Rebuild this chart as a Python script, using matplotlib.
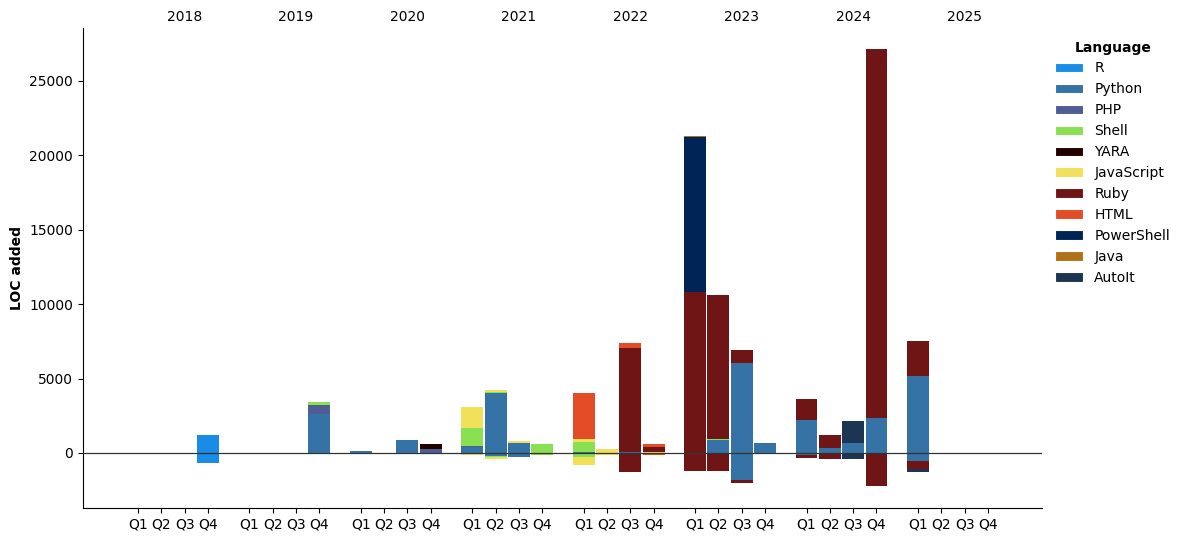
import matplotlib
matplotlib.use("Agg")
import matplotlib.pyplot as plt
import matplotlib.transforms as mtransforms
import numpy as np

years = ["2018", "2019", "2020", "2021", "2022", "2023", "2024", "2025"]
quarters = ["Q1", "Q2", "Q3", "Q4"]
languages = ["R", "Python", "PHP", "Shell", "YARA", "JavaScript", "Ruby",
             "HTML", "PowerShell", "Java", "AutoIt"]
colors = ["#198ce7", "#3572a5", "#4f5d95", "#89e051", "#220000", "#f1e05a",
          "#701516", "#e34c26", "#012456", "#b07219", "#1c3552"]

# Added lines (positive), per quarter, 2018 Q1 .. 2025 Q4
pos_R = [0, 0, 0, 1200,  0, 0, 0, 0,  0, 0, 0, 0,  0, 0, 0, 0,
         0, 0, 0, 0,  0, 0, 0, 0,  0, 0, 0, 0,  0, 0, 0, 0]
pos_Python = [0, 0, 0, 0,  0, 0, 0, 2650,  130, 0, 870, 0,  400, 4050, 690, 0,
              70, 30, 60, 0,  0, 890, 6070, 690,  2220, 340, 670, 2370,  5180, 0, 0, 0]
pos_PHP = [0, 0, 0, 0,  0, 0, 0, 550,  0, 0, 0, 270,  60, 0, 0, 0,
           0, 0, 0, 0,  0, 0, 0, 0,  0, 0, 0, 0,  0, 0, 0, 0]
pos_Shell = [0, 0, 0, 0,  0, 0, 0, 200,  0, 0, 0, 0,  1240, 50, 0, 630,
             670, 0, 0, 0,  0, 40, 0, 0,  0, 0, 0, 0,  0, 0, 0, 0]
pos_YARA = [0, 0, 0, 0,  0, 0, 0, 0,  0, 0, 0, 330,  0, 0, 0, 0,
            0, 0, 0, 0,  0, 0, 0, 0,  0, 0, 0, 0,  0, 0, 0, 0]
pos_JavaScript = [0, 0, 0, 0,  0, 0, 0, 0,  0, 0, 0, 0,  1410, 130, 130, 0,
                  200, 240, 0, 50,  0, 0, 0, 0,  0, 0, 0, 0,  0, 0, 0, 0]
pos_Ruby = [0, 0, 0, 0,  0, 0, 0, 0,  0, 0, 0, 0,  0, 0, 0, 0,
            0, 0, 7000, 350,  10840, 9710, 870, 0,  1410, 870, 0, 24780,  2350, 0, 0, 0]
pos_HTML = [0, 0, 0, 0,  0, 0, 0, 0,  0, 0, 0, 0,  0, 0, 0, 0,
            3090, 0, 330, 200,  0, 0, 0, 0,  0, 0, 0, 0,  0, 0, 0, 0]
pos_PowerShell = [0, 0, 0, 0,  0, 0, 0, 0,  0, 0, 0, 0,  0, 0, 0, 0,
                  0, 0, 0, 0,  10410, 0, 0, 0,  0, 0, 0, 0,  0, 0, 0, 0]
pos_Java = [0, 0, 0, 0,  0, 0, 0, 0,  0, 0, 0, 0,  0, 0, 0, 0,
            0, 0, 0, 0,  80, 0, 0, 0,  0, 0, 0, 0,  0, 0, 0, 0]
pos_AutoIt = [0, 0, 0, 0,  0, 0, 0, 0,  0, 0, 0, 0,  0, 0, 0, 0,
              0, 0, 0, 0,  0, 0, 0, 0,  0, 0, 1480, 0,  0, 0, 0, 0]

# Removed lines (negative)
neg_R = [0, 0, 0, -650,  0, 0, 0, 0,  0, 0, 0, 0,  0, 0, 0, 0,
         0, 0, 0, 0,  0, 0, 0, 0,  0, 0, 0, 0,  0, 0, 0, 0]
neg_Python = [0, 0, 0, 0,  0, 0, 0, 0,  0, 0, -30, 0,  -100, -180, -250, 0,
              -30, 0, 0, 0,  0, 0, -1790, 0,  -130, 0, 0, -100,  -520, 0, 0, 0]
neg_Shell = [0, 0, 0, 0,  0, 0, 0, 0,  0, 0, 0, 0,  0, -90, 0, -110,
             -240, 0, 0, 0,  0, 0, 0, 0,  0, 0, 0, 0,  0, 0, 0, 0]
neg_JavaScript = [0, 0, 0, 0,  0, 0, 0, 0,  0, 0, 0, 0,  -50, -110, -50, 0,
                  -520, -120, 0, -50,  0, 0, 0, 0,  0, 0, 0, 0,  0, 0, 0, 0]
neg_Ruby = [0, 0, 0, 0,  0, 0, 0, 0,  0, 0, 0, 0,  0, 0, 0, 0,
            0, 0, -1260, 0,  -1190, -1190, -200, 0,  -180, -400, 0, -2150,  -550, 0, 0, 0]
neg_HTML = [0, 0, 0, 0,  0, 0, 0, 0,  0, 0, 0, 0,  0, 0, 0, 0,
            0, 0, 0, -100,  0, 0, 0, 0,  0, 0, 0, 0,  0, 0, 0, 0]
neg_AutoIt = [0, 0, 0, 0,  0, 0, 0, 0,  0, 0, 0, 0,  0, 0, 0, 0,
              0, 0, 0, 0,  0, 0, 0, 0,  0, 0, -400, 0,  -200, 0, 0, 0]

zeros = [0] * 32
pos = {"R": pos_R, "Python": pos_Python, "PHP": pos_PHP, "Shell": pos_Shell,
       "YARA": pos_YARA, "JavaScript": pos_JavaScript, "Ruby": pos_Ruby,
       "HTML": pos_HTML, "PowerShell": pos_PowerShell, "Java": pos_Java,
       "AutoIt": pos_AutoIt}
neg = {"R": neg_R, "Python": neg_Python, "Shell": neg_Shell,
       "JavaScript": neg_JavaScript, "Ruby": neg_Ruby, "HTML": neg_HTML,
       "AutoIt": neg_AutoIt}

year_step = 4.78
x = np.array([yi * year_step + q for yi in range(len(years)) for q in range(4)])

fig = plt.figure(figsize=(11.85, 5.42), dpi=100)
ax = fig.add_axes([0.070, 0.0627, 0.8093, 0.8856])

bottom_p = np.zeros(32)
bottom_n = np.zeros(32)
handles = []
for lang, col in zip(languages, colors):
    p = np.array(pos.get(lang, zeros), dtype=float)
    n = np.array(neg.get(lang, zeros), dtype=float)
    mp = p != 0
    mn = n != 0
    ax.bar(x[mp], p[mp], width=0.94, bottom=bottom_p[mp], color=col,
           linewidth=0)
    ax.bar(x[mn], n[mn], width=0.94, bottom=bottom_n[mn], color=col,
           linewidth=0)
    bottom_p += p
    bottom_n += n
    handles.append(plt.Rectangle((0, 0), 1, 1, facecolor=col,
                                 edgecolor="white", linewidth=0.8, label=lang))

ax.axhline(0, color="#333333", linewidth=0.9, zorder=5)

ax.set_xticks(x)
ax.set_xticklabels(quarters * len(years), fontsize=10)
ax.set_xlim(-2.36, x[-1] + 2.32)
ax.set_ylim(-3700, 28560)
ax.set_yticks([0, 5000, 10000, 15000, 20000, 25000])
ax.tick_params(labelsize=10)
ax.set_ylabel("LOC added", fontsize=10, fontweight="bold")
for s in ["top", "right"]:
    ax.spines[s].set_visible(False)

trans = mtransforms.blended_transform_factory(ax.transData, ax.transAxes)
for yi, yr in enumerate(years):
    ax.text(yi * year_step + 2, 1.023, yr, transform=trans, ha="center",
            va="center", fontsize=10)

leg = ax.legend(handles=handles, title="Language", loc="upper left",
                bbox_to_anchor=(1.001, 1.0), frameon=False, fontsize=10,
                title_fontproperties={"weight": "bold", "size": 10})

fig.savefig("out.png", dpi=100)
